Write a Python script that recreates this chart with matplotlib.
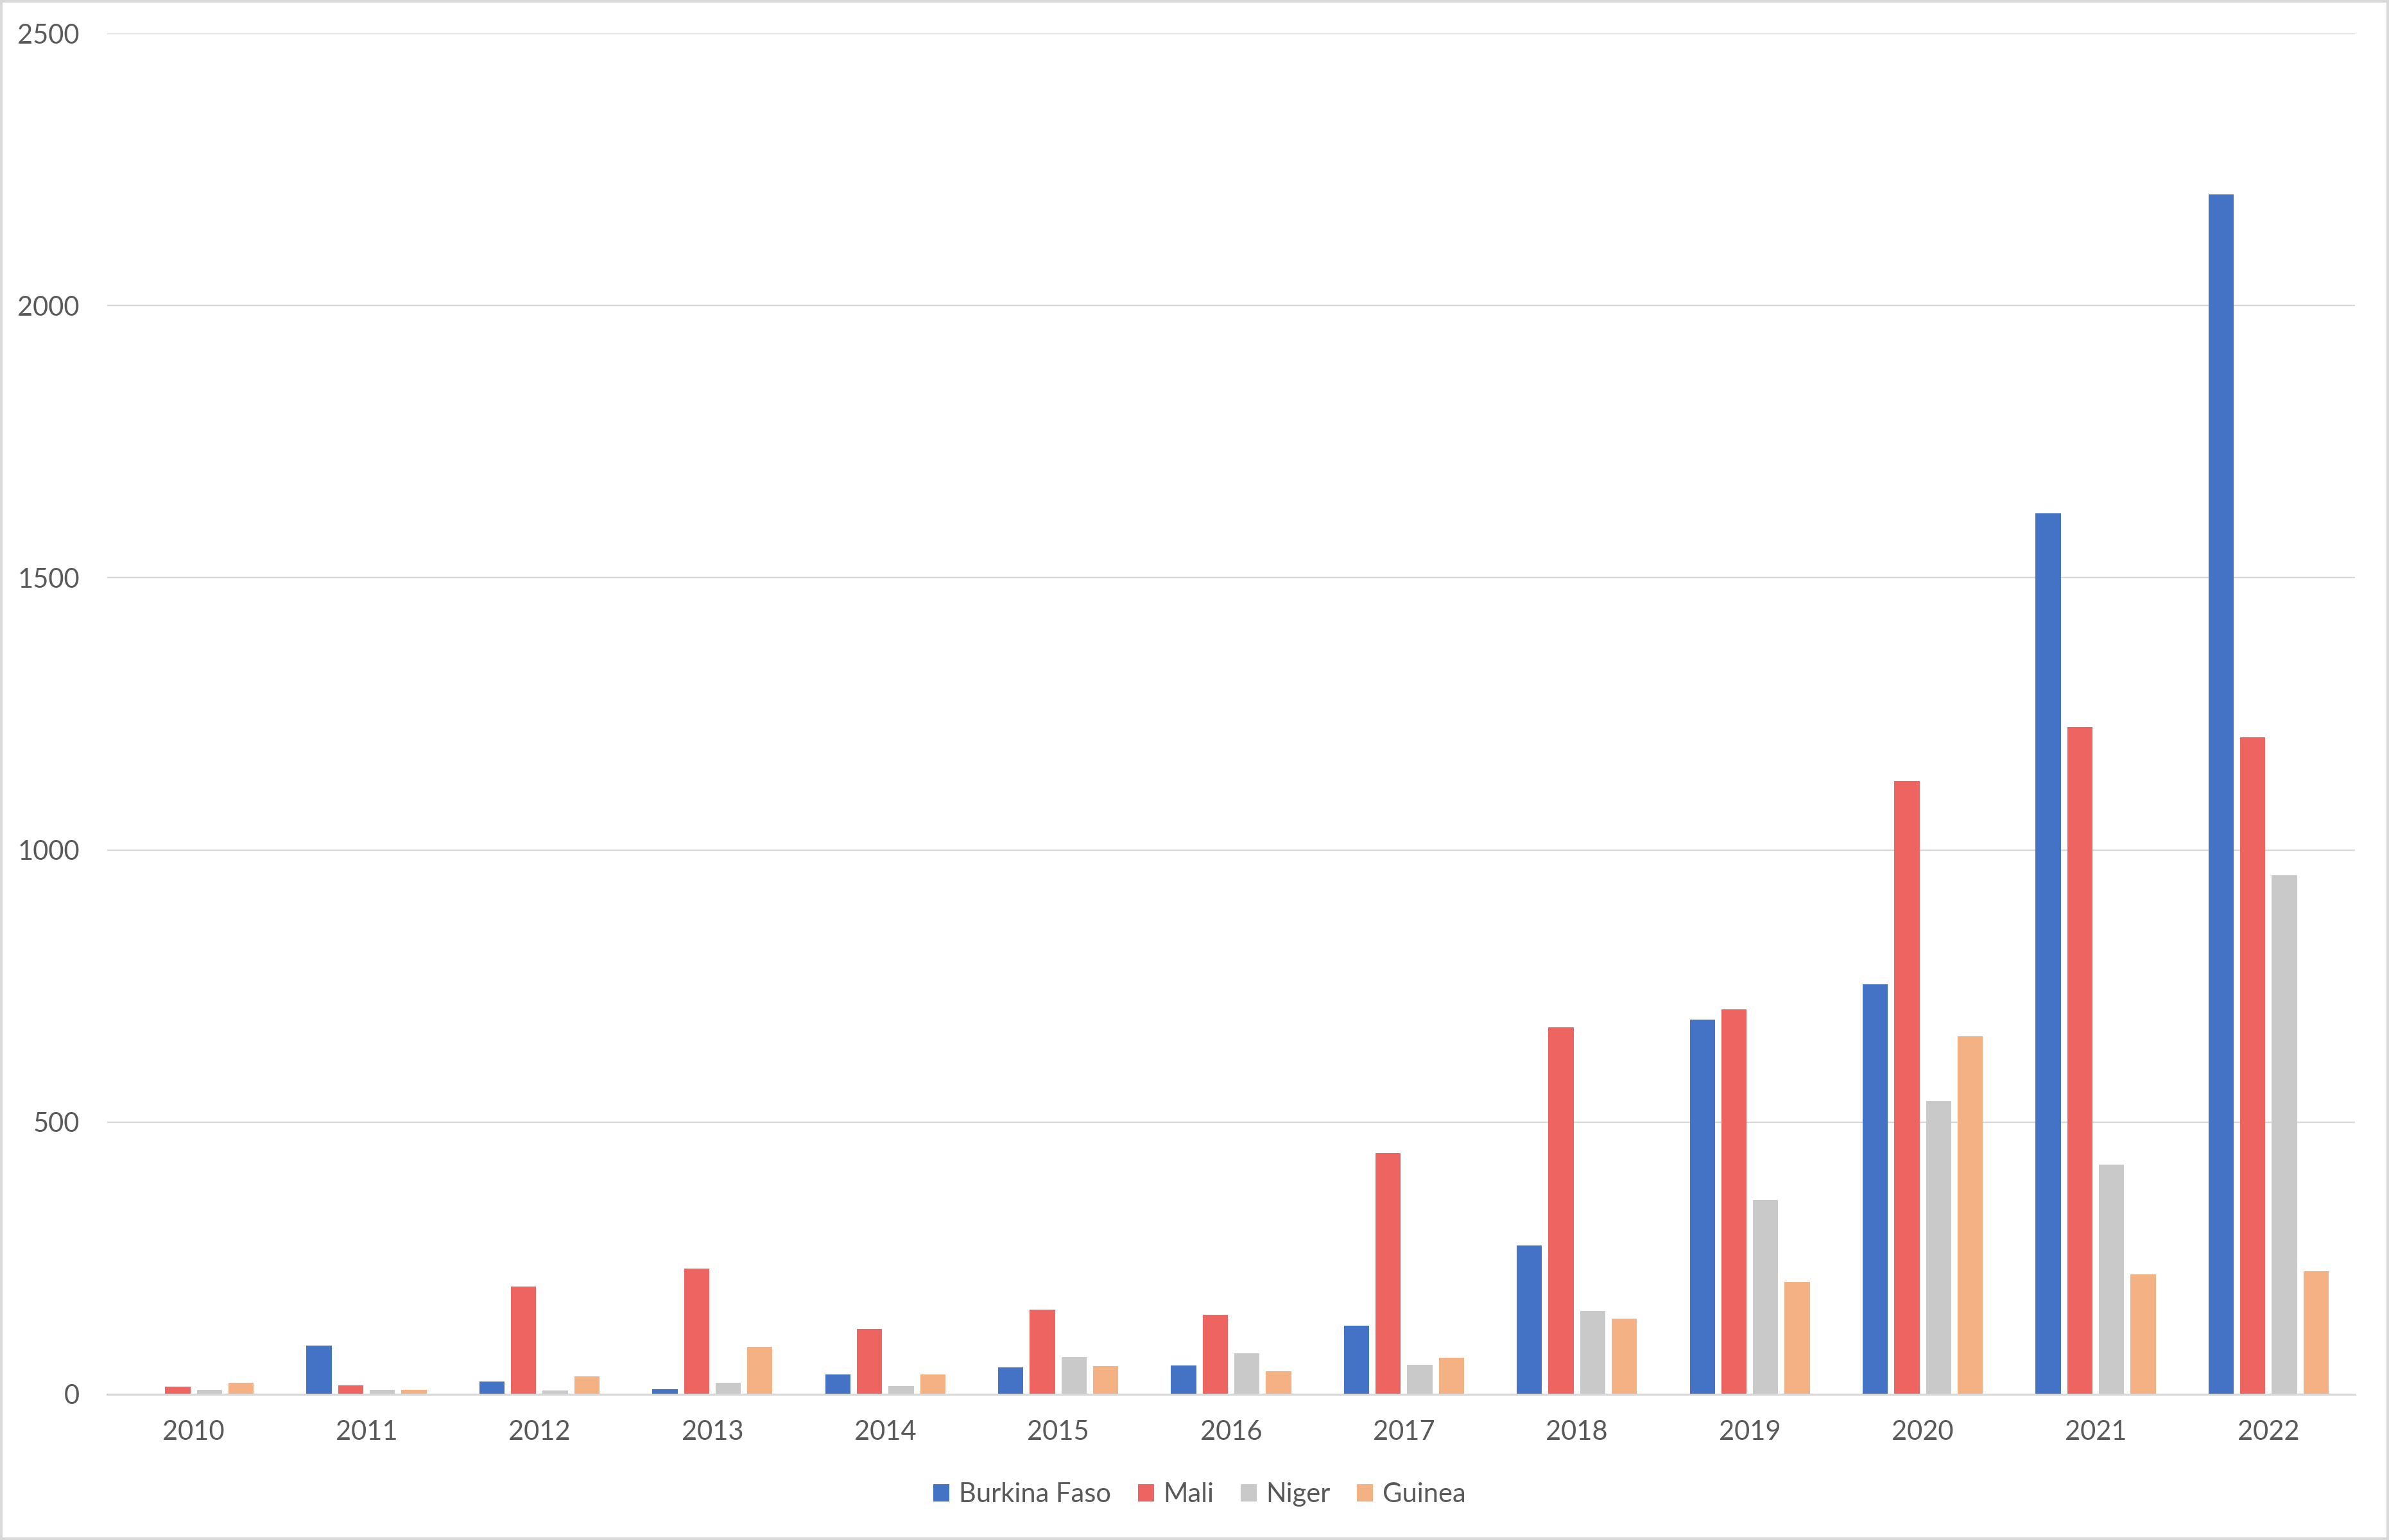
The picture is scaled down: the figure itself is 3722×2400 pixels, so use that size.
import matplotlib
matplotlib.use("Agg")
import matplotlib.pyplot as plt
import numpy as np
from matplotlib.patches import Rectangle

years = ["2010", "2011", "2012", "2013", "2014", "2015", "2016",
         "2017", "2018", "2019", "2020", "2021", "2022"]
series_names = ["Burkina Faso", "Mali", "Niger", "Guinea"]
burkina_faso = [0, 90, 23, 10, 36, 50, 53, 126, 273, 688, 753, 1618, 2204]
mali = [14, 16, 198, 231, 120, 156, 146, 443, 674, 707, 1127, 1226, 1207]
niger = [8, 8, 7, 21, 15, 68, 76, 54, 153, 357, 539, 422, 953]
guinea = [21, 8, 33, 87, 36, 52, 43, 67, 139, 206, 658, 220, 226]
y_ticks = [0, 500, 1000, 1500, 2000, 2500]

colors = ["#4472C4", "#EE6460", "#C9C9C9", "#F4B183"]
text_color = "#595959"
grid_color = "#D9D9D9"

plt.rcParams["font.family"] = ["Lato", "DejaVu Sans"]

W, H = 3722, 2400
fig = plt.figure(figsize=(W / 100, H / 100), dpi=100)
ax = fig.add_axes([167 / W, 1 - 2173 / H, (3669 - 167) / W, (2173 - 52) / H])

data = [burkina_faso, mali, niger, guinea]
x = np.arange(len(years))
bar_w = 0.146
pitch = 0.183
offsets = (np.arange(4) - 1.5) * pitch
for i, (name, vals) in enumerate(zip(series_names, data)):
    ax.bar(x + offsets[i], vals, width=bar_w, color=colors[i], label=name, zorder=3)

ax.set_xlim(-0.5, len(years) - 0.5)
ax.set_ylim(0, 2500)
ax.set_yticks(y_ticks)
ax.set_yticklabels([str(v) for v in y_ticks])
ax.set_xticks(x)
ax.set_xticklabels(years)
ax.yaxis.grid(True, color=grid_color, linewidth=1.7, zorder=0)
ax.set_axisbelow(True)
for s in ["top", "right", "left"]:
    ax.spines[s].set_visible(False)
ax.spines["bottom"].set_color(grid_color)
ax.spines["bottom"].set_linewidth(2.2)
ax.spines["bottom"].set_zorder(4)
ax.tick_params(axis="both", length=0, labelsize=30, colors=text_color)
ax.tick_params(axis="x", pad=29)
ax.tick_params(axis="y", pad=31)
for lbl in ax.get_xticklabels() + ax.get_yticklabels():
    lbl.set_color(text_color)

leg = fig.legend(loc="center", bbox_to_anchor=(1869 / W, 1 - 2329 / H), ncol=4,
                 frameon=False, fontsize=30, handlelength=0.6, handleheight=0.6,
                 handletextpad=0.35, columnspacing=1.0)
for t in leg.get_texts():
    t.set_color(text_color)

fig.patches.append(Rectangle((0.0005, 0.0008), 0.999, 0.9985, transform=fig.transFigure,
                             fill=False, edgecolor=grid_color, linewidth=3))

fig.savefig("out.png", dpi=100, facecolor="white")
